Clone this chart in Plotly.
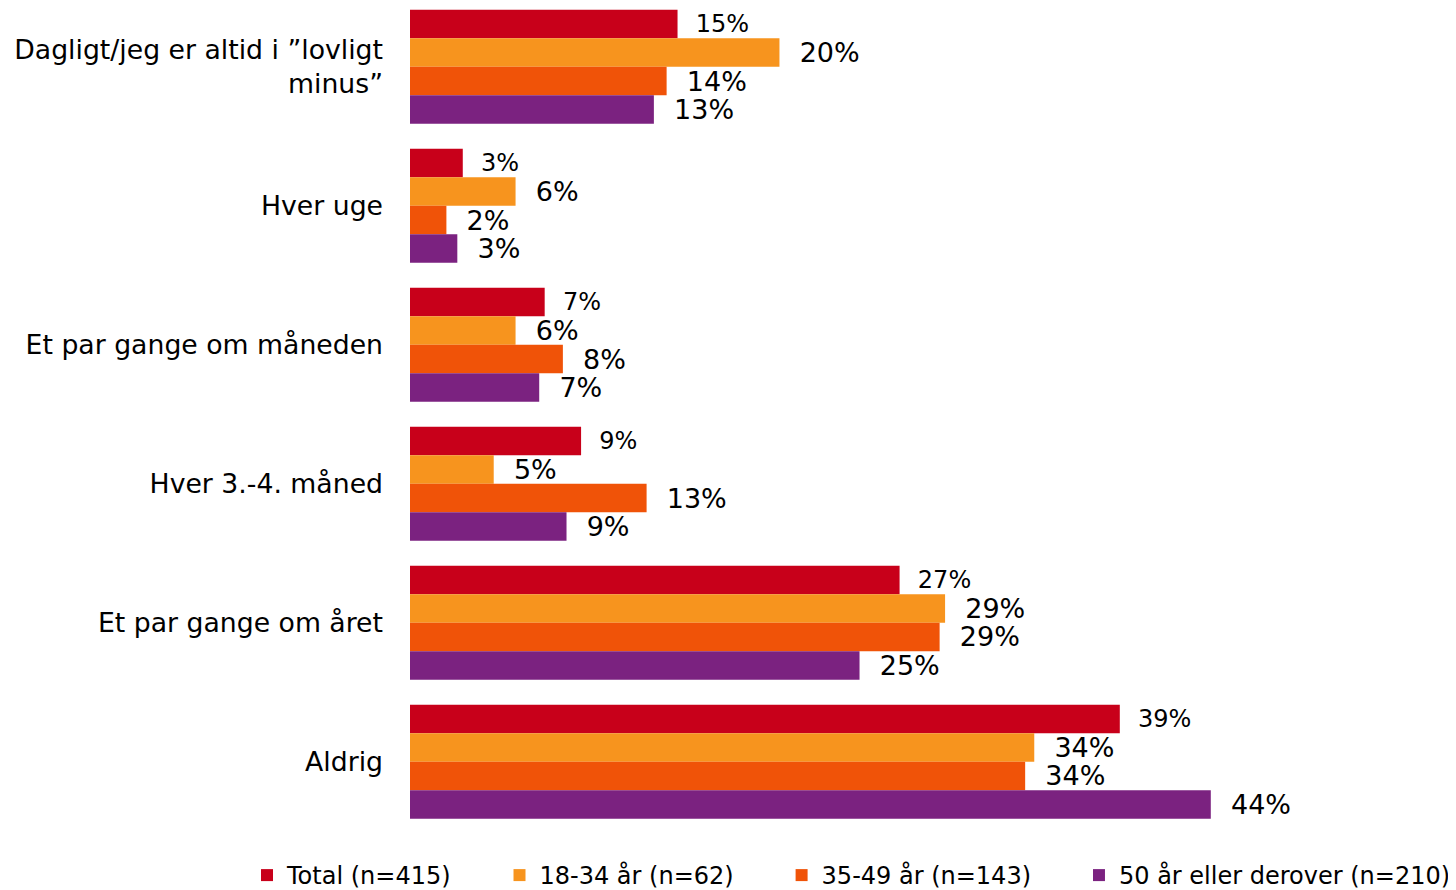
import plotly.graph_objects as go

categories = [
    "Dagligt/jeg er altid i ”lovligt<br>minus”",
    "Hver uge",
    "Et par gange om måneden",
    "Hver 3.-4. måned",
    "Et par gange om året",
    "Aldrig",
]
series_names = ["Total (n=415)", "18-34 år (n=62)", "35-49 år (n=143)", "50 år eller derover (n=210)"]
total = [14.7, 2.9, 7.4, 9.4, 26.9, 39.0]
age_18_34 = [20.3, 5.8, 5.8, 4.6, 29.4, 34.3]
age_35_49 = [14.1, 2.0, 8.4, 13.0, 29.1, 33.8]
age_50 = [13.4, 2.6, 7.1, 8.6, 24.7, 44.0]
colors = ["#C8001A", "#F7941E", "#F05308", "#7B2280"]
label_sizes = [24, 27, 27, 27]

fig = go.Figure()
n_series = len(series_names)
for i, (name, vals, col, ls) in enumerate(zip(series_names, [total, age_18_34, age_35_49, age_50], colors, label_sizes)):
    pad = "\u00a0" * 5 + "\u202f" if i < n_series - 1 else ""
    fig.add_trace(go.Bar(
        y=categories, x=vals, name=name + pad, orientation="h",
        marker=dict(color=col, line=dict(width=0)),
        texttemplate="\u00a0\u00a0%{x:.0f}%", textposition="outside",
        constraintext="none",
        textfont=dict(size=ls, color="#000000", family="DejaVu Sans"),
        cliponaxis=False,
    ))

fig.update_layout(
    width=1456, height=890,
    margin=dict(l=402, r=144, t=0, b=63),
    barmode="group", bargap=0.18, bargroupgap=0,
    plot_bgcolor="white", paper_bgcolor="white",
    font=dict(family="DejaVu Sans", color="#000000"),
    showlegend=True,
    legend=dict(orientation="h", xref="paper", yref="paper",
                x=-0.1791, xanchor="left", y=-0.0496, yanchor="middle",
                font=dict(size=24, family="DejaVu Sans"), traceorder="normal",
                itemwidth=30, bgcolor="rgba(0,0,0,0)"),
)
fig.update_xaxes(range=[0, 50], visible=False, showgrid=False, zeroline=False)
fig.update_yaxes(range=[5.527, -0.4227], showgrid=False, zeroline=False, showline=False,
                 automargin=False,
                 ticks="", tickfont=dict(size=26.7, family="DejaVu Sans"), ticklabelstandoff=26)

fig.write_html("out.html")
